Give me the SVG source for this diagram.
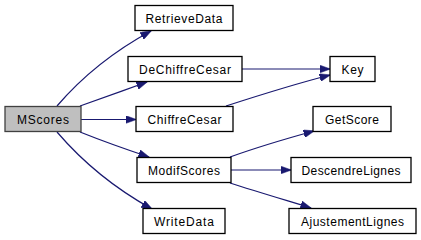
<svg xmlns="http://www.w3.org/2000/svg" width="421" height="240" viewBox="0 0 421 240">
  <style>
    .node rect { fill: #ffffff; stroke: #000000; stroke-width: 1.3; }
    .node.root rect { fill: #bfbfbf; stroke: #404040; }
    .node text { font-family: "Liberation Sans", Arial, sans-serif; font-size: 12px; fill: #000000; text-anchor: middle; }
    .edge { fill: none; stroke: #191970; stroke-width: 1.2; marker-end: url(#arrow); }
  </style>
  <defs>
    <marker id="arrow" viewBox="0 0 11 8" refX="10.5" refY="4" markerWidth="11" markerHeight="8" markerUnits="userSpaceOnUse" orient="auto">
      <path d="M0,0 L11,4 L0,8 z" fill="#191970" stroke="#191970" stroke-width="0.5"/>
    </marker>
  </defs>
  <rect width="421" height="240" fill="#ffffff"/>

  <g id="connectors">
    <!-- MScores calls -->
    <path class="edge" d="M57,106 C75,85 105,56 151,31"/>
    <path class="edge" d="M80,106 C100,99 125,90 147,82"/>
    <path class="edge" d="M81,119.5 L136,119.5"/>
    <path class="edge" d="M80,132 C100,140 125,149 149,157"/>
    <path class="edge" d="M57,132 C75,153 105,183 152,209"/>
    <!-- cipher helpers use Key -->
    <path class="edge" d="M242,69 L330,69"/>
    <path class="edge" d="M226,106 C260,95 295,84 330,75"/>
    <!-- ModifScores calls -->
    <path class="edge" d="M230,157 C255,148 285,139 314,131"/>
    <path class="edge" d="M231,170 L291,170"/>
    <path class="edge" d="M230,183 C255,191 285,200 311,208"/>
  </g>

  <g id="MScores" class="node root">
    <rect x="5" y="106.5" width="76" height="25"/>
    <text x="43" y="123.5" textLength="52" lengthAdjust="spacing">MScores</text>
  </g>
  <g id="RetrieveData" class="node">
    <rect x="135" y="5.5" width="98" height="25"/>
    <text x="184" y="22.5" textLength="77" lengthAdjust="spacing">RetrieveData</text>
  </g>
  <g id="DeChiffreCesar" class="node">
    <rect x="128" y="56.5" width="114" height="25"/>
    <text x="185" y="73.5" textLength="92" lengthAdjust="spacing">DeChiffreCesar</text>
  </g>
  <g id="ChiffreCesar" class="node">
    <rect x="136" y="106.5" width="97" height="25"/>
    <text x="184.5" y="123.5" textLength="74" lengthAdjust="spacing">ChiffreCesar</text>
  </g>
  <g id="ModifScores" class="node">
    <rect x="137" y="157.5" width="94" height="25"/>
    <text x="184" y="174.5" textLength="72" lengthAdjust="spacing">ModifScores</text>
  </g>
  <g id="WriteData" class="node">
    <rect x="143" y="208.5" width="82" height="25"/>
    <text x="184" y="225.5" textLength="60" lengthAdjust="spacing">WriteData</text>
  </g>
  <g id="Key" class="node">
    <rect x="330" y="56.5" width="45" height="25"/>
    <text x="352.5" y="73.5" textLength="22" lengthAdjust="spacing">Key</text>
  </g>
  <g id="GetScore" class="node">
    <rect x="313" y="106.5" width="78" height="25"/>
    <text x="352" y="123.5" textLength="54" lengthAdjust="spacing">GetScore</text>
  </g>
  <g id="DescendreLignes" class="node">
    <rect x="291" y="157.5" width="120" height="25"/>
    <text x="351" y="174.5" textLength="99" lengthAdjust="spacing">DescendreLignes</text>
  </g>
  <g id="AjustementLignes" class="node">
    <rect x="289" y="208.5" width="127" height="25"/>
    <text x="352.5" y="225.5" textLength="103" lengthAdjust="spacing">AjustementLignes</text>
  </g>
</svg>
